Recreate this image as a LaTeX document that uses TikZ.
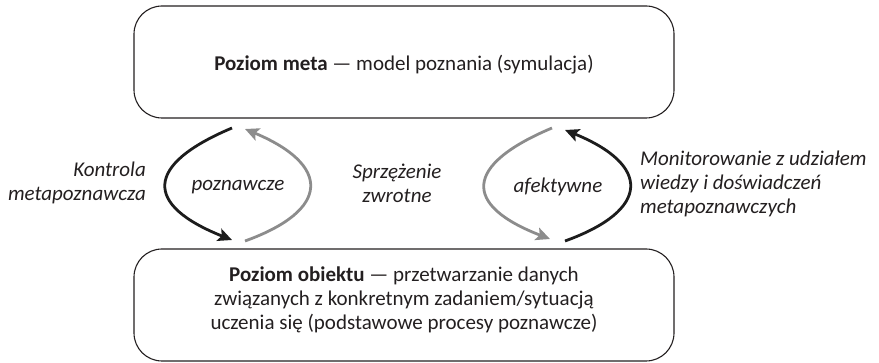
\documentclass[tikz,border=0pt]{standalone}
\usepackage{fontspec}
\setmainfont{Carlito}
\usetikzlibrary{arrows.meta}
\definecolor{arrgray}{RGB}{140,140,140}
\definecolor{arrblack}{RGB}{28,28,28}
\definecolor{txt}{RGB}{35,31,32}
\begin{document}
\begin{tikzpicture}[x=1pt,y=-1pt,
  levelbox/.style={draw=txt, line width=1.1pt, rounded corners=28pt, minimum width=540pt, minimum height=112pt, inner sep=0pt},
  boxtext/.style={align=center, text=txt, inner sep=0pt},
  lbl/.style={text=txt, font=\itshape, inner sep=0pt},
  bigarrow/.style={line width=2.8pt, -{Stealth[length=14pt,width=13pt,inset=3pt]}},
  blk/.style={bigarrow, draw=arrblack, arrblack},
  gry/.style={bigarrow, draw=arrgray, arrgray}]
\useasboundingbox (0,0) rectangle (879,363);
\fontsize{21}{24}\selectfont
\node[levelbox] (meta) at (404,62) {};
\node[boxtext] (metatext) at (404,65) {\textbf{Poziom meta} — model poznania (symulacja)};
\node[levelbox] (obj) at (404,305) {};
\node[boxtext] (objtext) at (404,300) {\textbf{Poziom obiektu} — przetwarzanie danych\\związanych z konkretnym zadaniem/sytuacją\\uczenia się (podstawowe procesy poznawcze)};
% coordinates for arrow ends
\coordinate (ls) at (232,128);
\coordinate (le) at (232,240);
\coordinate (gs) at (245,241);
\coordinate (ge) at (245,129);
\coordinate (rgs) at (552,128);
\coordinate (rge) at (550,239);
\coordinate (rbs) at (565,241);
\coordinate (rbe) at (565,130);
\draw[blk] (ls) .. controls (144,165) and (144,205) .. (le);
\draw[gry] (gs) .. controls (331,210) and (331,165) .. (ge);
\draw[gry] (rgs) .. controls (464,165) and (462,205) .. (rge);
\draw[blk] (rbs) .. controls (651,210) and (651,165) .. (rbe);
\node[lbl, align=right, anchor=east] (kontrola) at (146,183) {Kontrola\\metapoznawcza};
\node[lbl] (pozn) at (238,187) {poznawcze};
\node[lbl, align=center] (sprz) at (397,183) {Sprzężenie\\zwrotne};
\node[lbl] (afekt) at (558,187) {afektywne};
\node[lbl, align=left, anchor=west] (monit) at (640,184) {Monitorowanie z udziałem\\wiedzy i doświadczeń\\metapoznawczych};
\end{tikzpicture}
\end{document}
